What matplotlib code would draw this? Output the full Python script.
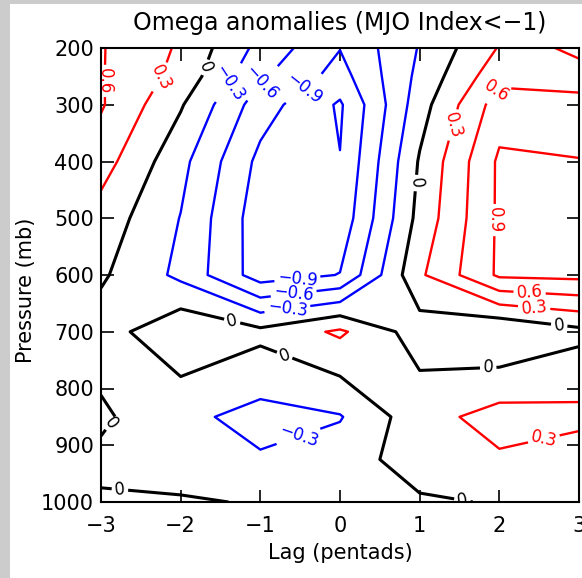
import numpy as np
import matplotlib
matplotlib.use("Agg")
import matplotlib.pyplot as plt
from matplotlib.patches import Rectangle

# Lag (pentads) and pressure levels (mb) of the composite
lags = [-3, -2, -1, 0, 1, 2, 3]
pressure = [200, 250, 300, 400, 500, 600, 700, 850, 925, 1000]

# Omega anomalies, one row per pressure level
w200 = [0.62, 0.26, -0.39, -0.89, -0.28, 0.32, 0.72]
w250 = [0.62, 0.20, -0.55, -1.02, -0.22, 0.50, 0.40]
w300 = [0.63, 0.03, -0.76, -1.24, -0.13, 0.75, 0.75]
w400 = [0.43, -0.21, -0.98, -1.19, 0.03, 0.95, 0.91]
w500 = [0.175, -0.31, -1.07, -1.10, 0.10, 0.95, 1.00]
w600 = [0.043, -0.37, -1.05, -0.89, 0.25, 0.95, 0.98]
w700 = [-0.144, 0.25, 0.08, 0.35, -0.15, -0.30, -0.08]
w850 = [0.049, -0.225, -0.40, -0.32, 0.18, 0.42, 0.38]
w925 = [-0.06, -0.15, -0.27, -0.15, 0.15, 0.26, 0.14]
w1000 = [0.03, 0.03, -0.02, -0.08, -0.04, 0.02, 0.05]

omega = np.array([w200, w250, w300, w400, w500, w600, w700, w850, w925, w1000])

neg_levels = [-0.9, -0.6, -0.3]
core_level = [-1.2]
pos_levels = [0.3, 0.6, 0.9]

# where the contour labels sit (lag, mb)
neg_label_pos = [(-1.38, 263), (-1.0, 258), (-0.5, 263), (-0.54, 600),
                 (-0.59, 623), (-0.67, 650), (-0.54, 877)]
zero_label_pos = [(-1.73, 232), (0.87, 437), (-1.35, 679), (-0.7, 743),
                  (-2.89, 860), (-2.76, 974), (2.75, 690), (1.86, 762),
                  (1.54, 993)]
pos_label_pos = [(-2.95, 258), (-2.32, 246), (1.35, 333), (1.96, 275),
                 (1.85, 503), (2.38, 630), (2.44, 652), (2.54, 877)]


def fmt(v):
    if abs(v) < 1e-9:
        return "0"
    return f"{v:.1f}".replace("-", "\u2212")


plt.rcParams['font.family'] = ['DejaVu Sans']

fig = plt.figure(figsize=(5.82, 5.78), dpi=100)
fig.patches.append(Rectangle((0, 0), 10 / 582, 1, transform=fig.transFigure,
                             facecolor='#cccccc', edgecolor='none', zorder=0))
fig.patches.append(Rectangle((0, 1 - 4 / 578), 1, 4 / 578, transform=fig.transFigure,
                             facecolor='#cccccc', edgecolor='none', zorder=0))

ax = fig.add_axes([101 / 582, 1 - 502 / 578, 478 / 582, 454 / 578])

ax.contour(lags, pressure, omega, levels=core_level, colors='blue',
           linewidths=1.7, linestyles='solid')
cs_neg = ax.contour(lags, pressure, omega, levels=neg_levels, colors='blue',
                    linewidths=1.7, linestyles='solid')
cs_zero = ax.contour(lags, pressure, omega, levels=[0.0], colors='black',
                     linewidths=2.2, linestyles='solid')
cs_pos = ax.contour(lags, pressure, omega, levels=pos_levels, colors='red',
                    linewidths=1.7, linestyles='solid')

ax.clabel(cs_neg, inline=True, fmt=fmt, fontsize=12,
          manual=neg_label_pos, inline_spacing=3)
ax.clabel(cs_zero, inline=True, fmt=fmt, fontsize=12,
          manual=zero_label_pos, inline_spacing=3)
ax.clabel(cs_pos, inline=True, fmt=fmt, fontsize=12,
          manual=pos_label_pos, inline_spacing=3)

ax.set_xlim(-3, 3)
ax.set_ylim(1000, 200)
ax.set_xticks(lags)
ax.set_yticks(range(200, 1001, 100))
ax.tick_params(direction='in', length=9, width=1.2, top=True, right=True,
               labelsize=15)
ax.tick_params(axis='y', pad=5)
ax.tick_params(axis='x', pad=10)
for s in ax.spines.values():
    s.set_linewidth(1.5)

ax.set_xlabel("Lag (pentads)", fontsize=15)
ax.xaxis.set_label_coords(0.5, -0.09)
ax.set_ylabel("Pressure (mb)", fontsize=15)
ax.yaxis.set_label_coords(-0.135, 0.467)
ax.set_title("Omega anomalies (MJO Index<\u22121)", fontsize=17, pad=13)

fig.savefig("out.png", dpi=100)
